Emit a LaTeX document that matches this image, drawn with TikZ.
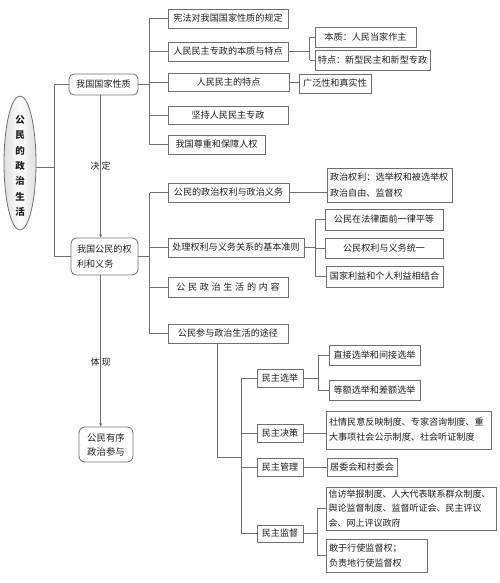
\documentclass[tikz,border=0pt]{standalone}
\usepackage{fontspec}
\setmainfont{Noto Sans CJK SC}
\usetikzlibrary{shapes.geometric,arrows.meta}
\definecolor{ln}{HTML}{707070}
\definecolor{tx}{HTML}{1E1E1E}
\tikzset{
  box/.style={draw=ln, line width=0.8pt, inner sep=0pt, font=\fontsize{9.1}{14.5}\selectfont, text=tx, anchor=center},
  rbox/.style={box, rounded corners=5pt},
  conn/.style={draw=ln, line width=0.8pt},
  lab/.style={font=\fontsize{9.1}{11}\selectfont, text=tx, inner sep=0pt},
  arr/.style={conn, -{Stealth[length=3.5pt,width=3pt]}},
}
\begin{document}
\begin{tikzpicture}[x=1pt,y=-1pt]
\useasboundingbox (0,0) rectangle (500,583);
% root ellipse
\node[ellipse, draw=ln, line width=0.8pt, minimum width=32pt, minimum height=134pt, inner sep=0pt,
      left color=black!13, right color=black!13, middle color=white] (ell) at (20,163) {};
\node[font=\fontsize{9.5}{15.3}\selectfont\bfseries, text=tx, align=center, inner sep=0pt] (ellt) at (20,166) {公\\民\\的\\政\\治\\生\\活};
% level 1
\node[rbox, minimum width=69pt, minimum height=21pt] (n1) at (103.5,84.5) {我国国家性质};
\node[rbox, rounded corners=6pt, minimum width=67pt, minimum height=37pt, align=left, text width=55pt, inner xsep=6pt, font=\fontsize{9.1}{15}\selectfont] (n2) at (104.5,256.5) {我国公民的权\\利和义务};
\node[rbox, rounded corners=6pt, minimum width=54pt, minimum height=35pt, align=center, font=\fontsize{9.4}{14}\selectfont] (n3) at (106,444.5) {公民有序\\政治参与};
% level 2 (state nature)
\node[box, minimum width=120pt, minimum height=19pt] (a1) at (228,18.5) {宪法对我国国家性质的规定};
\node[box, minimum width=120pt, minimum height=19pt] (a2) at (228,51.5) {人民民主专政的本质与特点};
\node[box, minimum width=121pt, minimum height=18pt] (a3) at (228.5,82) {人民民主的特点};
\node[box, minimum width=120pt, minimum height=18pt] (a4) at (228,115) {坚持人民民主专政};
\node[box, minimum width=97pt, minimum height=19pt] (a5) at (216.5,144.5) {我国尊重和保障人权};
\node[box, minimum width=101pt, minimum height=20pt] (b1) at (365.5,37) {本质：人民当家作主};
\node[box, minimum width=115pt, minimum height=20pt] (b2) at (372.5,60) {特点：新型民主和新型专政};
\node[box, minimum width=72pt, minimum height=19pt] (c1) at (335,83.5) {广泛性和真实性};
% level 2 (rights)
\node[box, minimum width=121pt, minimum height=19pt] (d1) at (228.5,192.5) {公民的政治权利与政治义务};
\node[box, minimum width=136pt, minimum height=19pt] (d2) at (236,247.5) {处理权利与义务关系的基本准则};
\node[box, minimum width=120pt, minimum height=20pt] (d3) at (228,287) {公\hspace{2.7pt}民\hspace{2.7pt}政\hspace{2.7pt}治\hspace{2.7pt}生\hspace{2.7pt}活\hspace{2.7pt}的\hspace{2.7pt}内\hspace{2.7pt}容};
\node[box, minimum width=120pt, minimum height=19pt] (d4) at (228,333.5) {公民参与政治生活的途径};
\node[box, minimum height=34pt, align=left, text width=119pt, inner xsep=3pt, font=\fontsize{9.1}{16}\selectfont] (e1) at (389.5,185) {政治权利：选举权和被选举权\\政治自由、监督权};
\node[box, minimum width=118pt, minimum height=21pt] (f1) at (384,219.5) {公民在法律面前一律平等};
\node[box, minimum width=118pt, minimum height=20pt] (f2) at (384,248) {公民权利与义务统一};
\node[box, minimum width=117pt, minimum height=21pt] (f3) at (384.5,276.5) {国家利益和个人利益相结合};
% ways of participation
\node[box, minimum width=46pt, minimum height=18pt] (g1) at (280,378) {民主选举};
\node[box, minimum width=46pt, minimum height=18pt] (g2) at (280,433) {民主决策};
\node[box, minimum width=46pt, minimum height=18pt] (g3) at (280,467) {民主管理};
\node[box, minimum width=46pt, minimum height=17pt] (g4) at (280,533.5) {民主监督};
\node[box, minimum width=91pt, minimum height=20pt] (h1) at (374.5,355) {直接选举和间接选举};
\node[box, minimum width=91pt, minimum height=20pt] (h2) at (374.5,390) {等额选举和差额选举};
\node[box, minimum height=38pt, align=left, text width=159pt, inner xsep=3pt, font=\fontsize{9.1}{15}\selectfont] (i1) at (408.5,430) {社情民意反映制度、专家咨询制度、重\\大事项社会公示制度、社会听证制度};
\node[box, minimum width=70pt, minimum height=18pt] (j1) at (362,467) {居委会和村委会};
\node[box, minimum height=43pt, align=left, text width=165pt, inner xsep=2.5pt, font=\fontsize{9}{14.3}\selectfont] (k1) at (411,508.5) {信访举报制度、人大代表联系群众制度、\\舆论监督制度、监督听证会、民主评议\\会、网上评议政府};
\node[box, minimum height=33pt, align=left, text width=95pt, inner xsep=3pt, font=\fontsize{9.1}{14.5}\selectfont] (k2) at (376.5,555.5) {敢于行使监督权；\\负责地行使监督权};
% connectors: root
\coordinate (tr) at (54,167);
\draw[conn] (ell.east |- tr) -- (tr);
\draw[conn] (n1.west) -- (n1.west -| tr) -- (n2.west -| tr) -- (n2.west);
% arrows
\coordinate (ax) at (100.7,0);
\draw[arr] (n1.south -| ax) -- node[lab, pos=0.5] {决\hspace{2pt}定} (n2.north -| ax);
\draw[arr] (n2.south -| ax) -- node[lab, pos=0.57] {体\hspace{2pt}现} (n3.north -| ax);
% bracket 1
\coordinate (bx1) at (149.5,0);
\draw[conn] (n1.east) -- (n1.east -| bx1);
\draw[conn] (a1.west -| bx1) -- (a5.west -| bx1);
\foreach \n in {a1,a2,a3,a4,a5} \draw[conn] (\n.west -| bx1) -- (\n.west);
% a2 bracket
\coordinate (bx2) at (309.5,0);
\draw[conn] (a2.east) -- (a2.east -| bx2);
\draw[conn] (b1.west -| bx2) -- (b2.west -| bx2);
\foreach \n in {b1,b2} \draw[conn] (\n.west -| bx2) -- (\n.west);
\draw[conn] (a3.east) -- (a3.east -| c1.west);
% bracket 2
\draw[conn] (n2.east) -- (n2.east -| bx1);
\draw[conn] (d1.west -| bx1) -- (d4.west -| bx1);
\foreach \n in {d1,d2,d3,d4} \draw[conn] (\n.west -| bx1) -- (\n.west);
\draw[conn] (d1.east) -- (d1.east -| e1.west);
\coordinate (bx3) at (315,0);
\draw[conn] (d2.east) -- (d2.east -| bx3);
\draw[conn] (f1.west -| bx3) -- (f3.west -| bx3);
\foreach \n in {f1,f2,f3} \draw[conn] (\n.west -| bx3) -- (\n.west);
% ways bracket
\coordinate (dx) at (217.5,457);
\coordinate (bx4) at (241,0);
\draw[conn] (d4.south -| dx) -- (dx) -- (dx -| bx4);
\draw[conn] (g1.west -| bx4) -- (g4.west -| bx4);
\foreach \n in {g1,g2,g3,g4} \draw[conn] (\n.west -| bx4) -- (\n.west);
\coordinate (bx5) at (318,0);
\draw[conn] (g1.east) -- (g1.east -| bx5);
\draw[conn] (h1.west -| bx5) -- (h2.west -| bx5);
\foreach \n in {h1,h2} \draw[conn] (\n.west -| bx5) -- (\n.west);
\draw[conn] (g2.east) -- (g2.east -| i1.west);
\draw[conn] (g3.east) -- (j1.west);
\coordinate (bx6) at (317,0);
\draw[conn] (g4.east) -- (g4.east -| bx6);
\draw[conn] (k1.west -| bx6) -- (k2.west -| bx6);
\foreach \n in {k1,k2} \draw[conn] (\n.west -| bx6) -- (\n.west);
\end{tikzpicture}
\end{document}
